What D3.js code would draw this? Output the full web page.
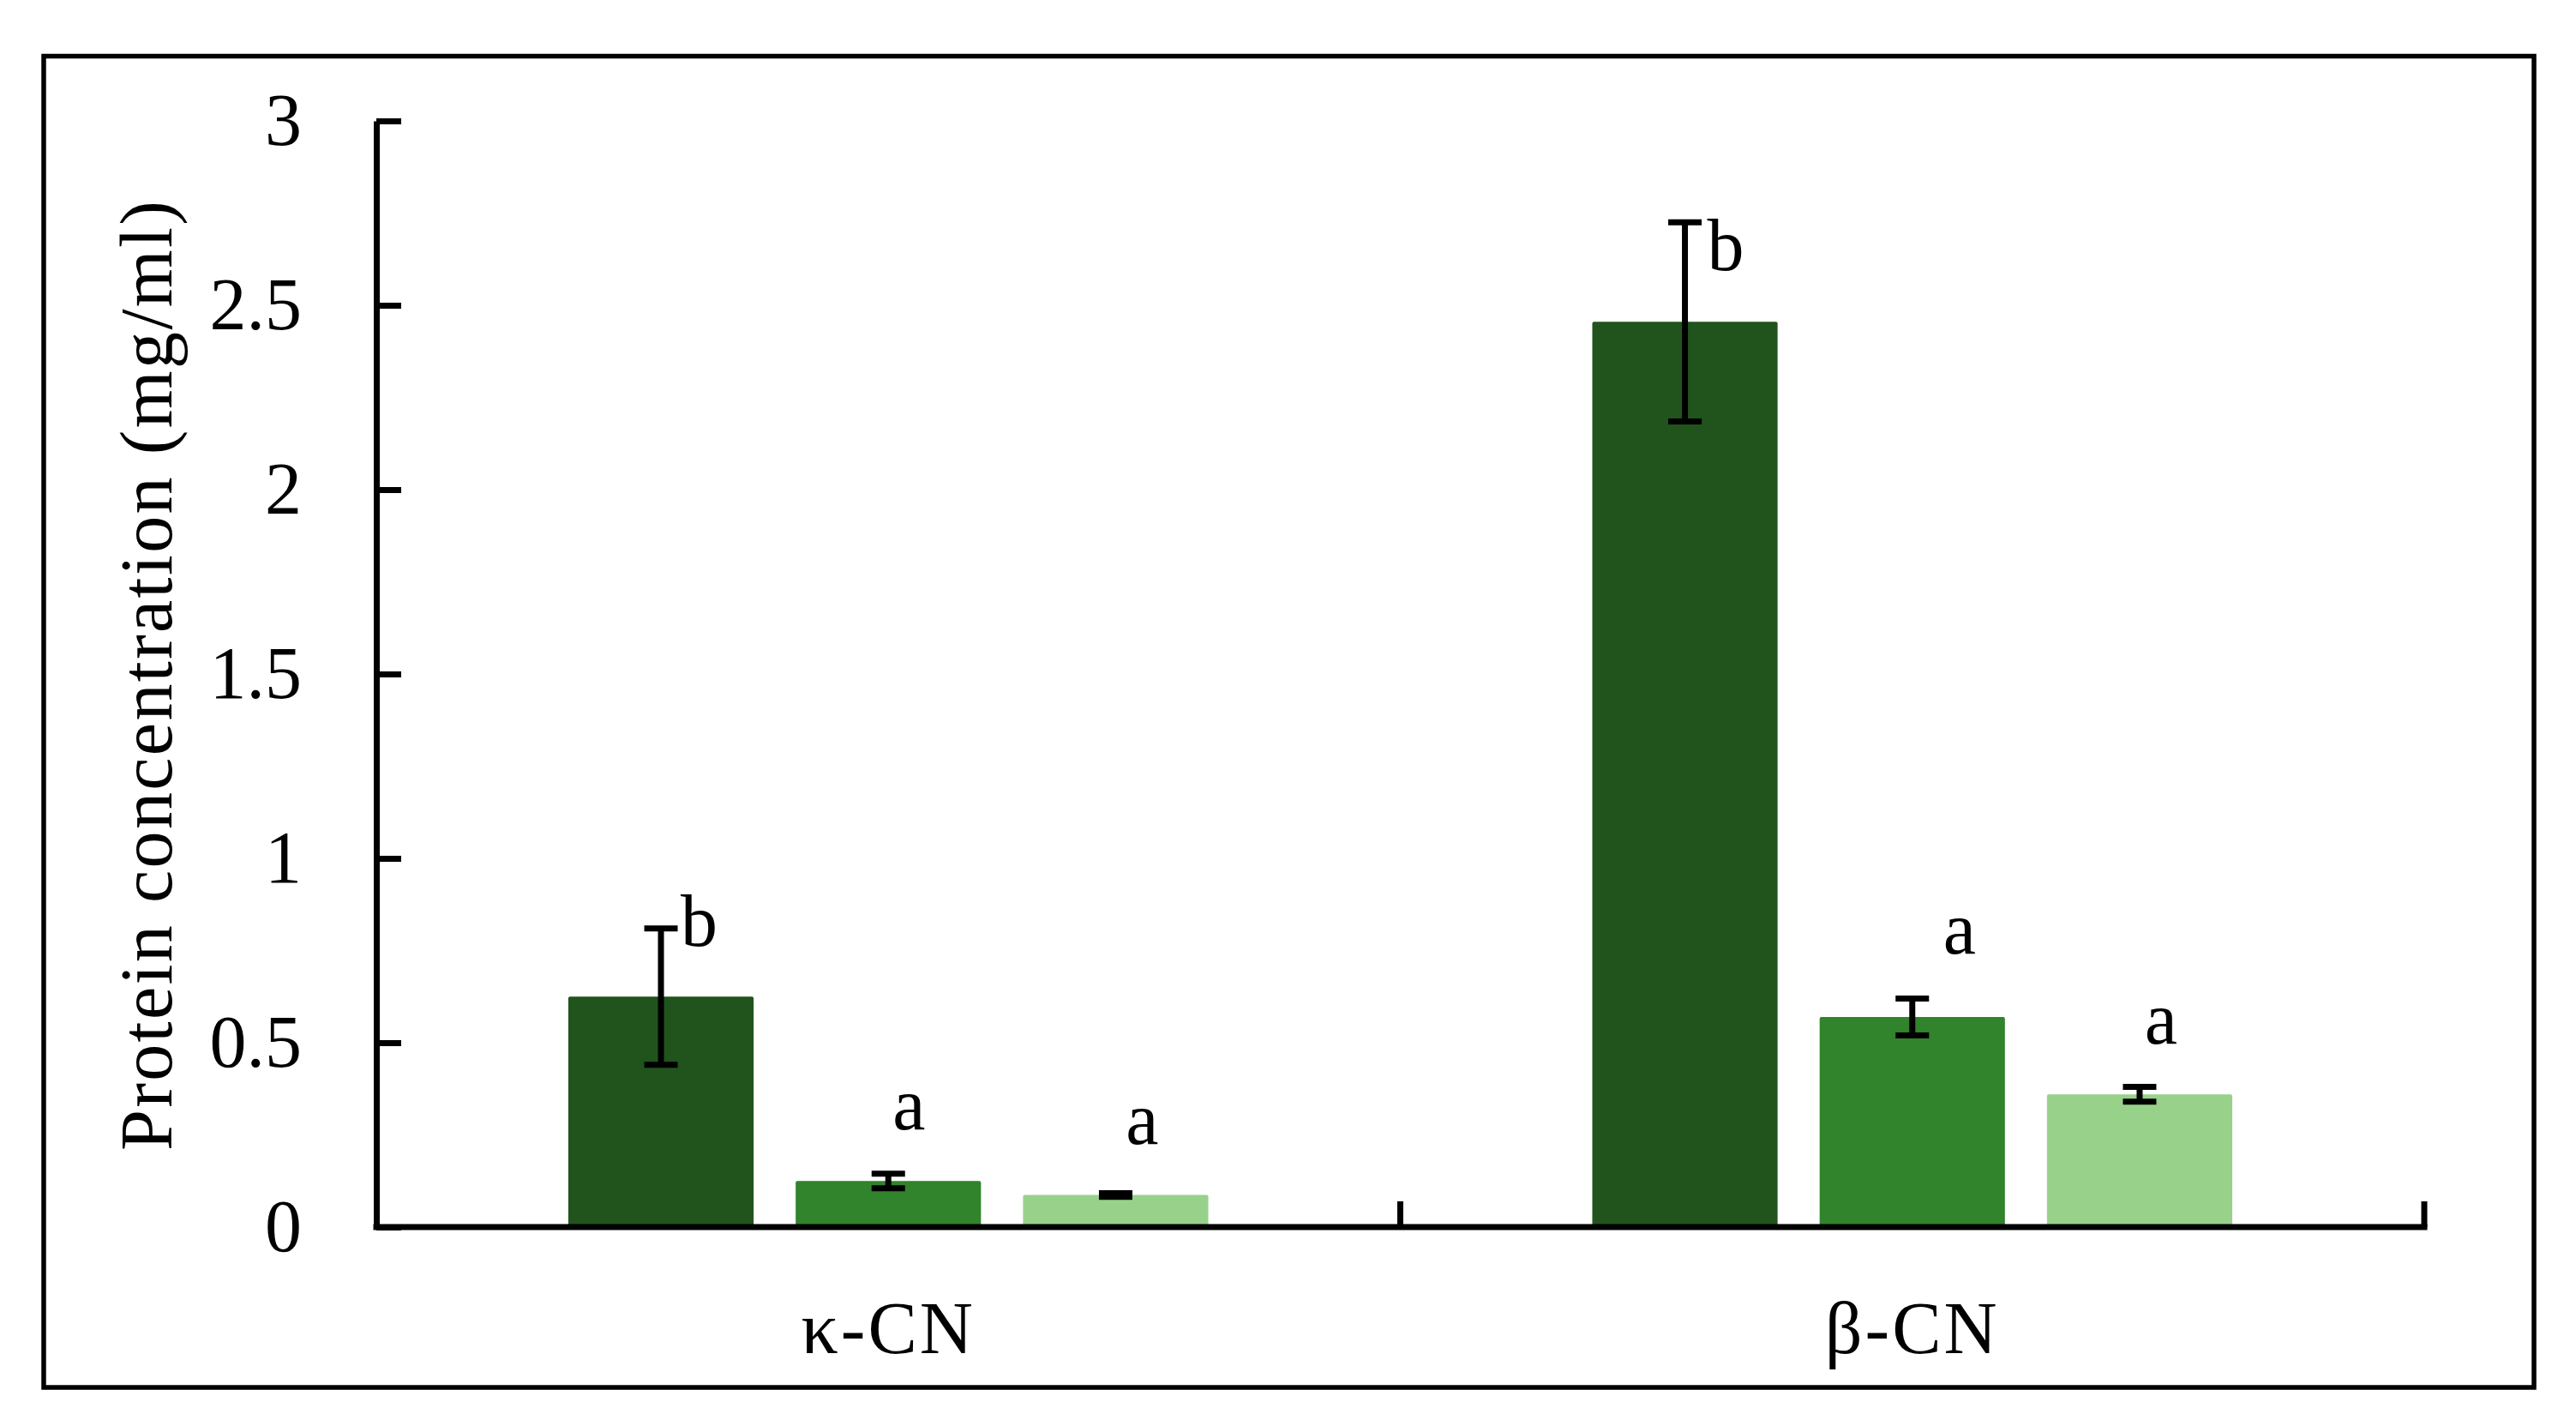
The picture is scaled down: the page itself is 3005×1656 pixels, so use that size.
<!DOCTYPE html>
<html>
<head>
<meta charset="utf-8">
<script src="https://cdn.jsdelivr.net/npm/d3@7"></script>
<style>
  html, body { margin: 0; padding: 0; background: #ffffff; }
  svg { display: block; }
  text { font-family: "Palatino Linotype", "Book Antiqua", Palatino, "Liberation Serif", serif; fill: #000; }
</style>
</head>
<body>
<svg id="chart" width="3005" height="1656"></svg>
<script>
// ---- data ----
const categories = ["κ-CN", "β-CN"];
const series = ["Sample 1", "Sample 2", "Sample 3"];
const kappaValues = [0.625, 0.125, 0.087];
const betaValues = [2.455, 0.57, 0.36];
const kappaErrors = [0.185, 0.02, 0.005];
const betaErrors = [0.27, 0.05, 0.02];
const kappaLetters = ["b", "a", "a"];
const betaLetters = ["b", "a", "a"];
const kappaLetterY = [0.762, 0.266, 0.226];
const betaLetterY = [2.595, 0.741, 0.498];
const yTicks = [0, 0.5, 1, 1.5, 2, 2.5, 3];
const yTitle = "Protein concentration (mg/ml)";
const colors = ["#20541c", "#31832c", "#98d28a"];

// letter horizontal anchors (offset from bar centre, px) and alignment
const letterDx = [[23, 24, 31], [26, 55, 25]];
const letterAnchor = [["start", "middle", "middle"], ["start", "middle", "middle"]];

const rows = categories.map((c, i) => ({
  cat: c,
  values: i === 0 ? kappaValues : betaValues,
  errors: i === 0 ? kappaErrors : betaErrors,
  letters: i === 0 ? kappaLetters : betaLetters,
  letterY: i === 0 ? kappaLetterY : betaLetterY
}));

// ---- layout ----
const svg = d3.select("#chart");
const plot = { left: 439, right: 2828, top: 141, bottom: 1431 };
const fontSize = 86;
const fontFam = "'Palatino Linotype','Book Antiqua',Palatino,'Liberation Serif',serif";

svg.append("rect")
  .attr("x", 51).attr("y", 65.5)
  .attr("width", 2905).attr("height", 1552.5)
  .attr("fill", "none").attr("stroke", "#000").attr("stroke-width", 5.5);

const y = d3.scaleLinear().domain([0, 3]).range([plot.bottom, plot.top]);
const x0 = d3.scaleBand().domain(categories).range([plot.left, plot.right]).paddingInner(0).paddingOuter(0);
const bw = x0.bandwidth();
const x1 = d3.scaleBand().domain(series).range([bw * 0.1875, bw * 0.8125]).paddingInner(0.185).paddingOuter(0);

// bars
const groups = svg.append("g").selectAll("g")
  .data(rows).join("g")
  .attr("transform", d => `translate(${x0(d.cat)},0)`);

groups.selectAll("rect")
  .data(d => d.values.map((v, j) => ({ s: series[j], v, j })))
  .join("rect")
  .attr("x", d => x1(d.s))
  .attr("y", d => y(d.v))
  .attr("width", x1.bandwidth())
  .attr("height", d => y(0) - y(d.v))
  .attr("rx", 2)
  .attr("fill", d => colors[d.j]);

// error bars
const capHalf = 19.5;
groups.each(function (d, i) {
  const g = d3.select(this);
  d.values.forEach((v, j) => {
    const cx = x1(series[j]) + x1.bandwidth() / 2;
    const hi = y(v + d.errors[j]);
    const lo = y(v - d.errors[j]);
    const eg = g.append("g").attr("stroke", "#000").attr("stroke-width", 7);
    eg.append("line").attr("x1", cx).attr("x2", cx).attr("y1", hi).attr("y2", lo);
    eg.append("line").attr("x1", cx - capHalf).attr("x2", cx + capHalf).attr("y1", hi).attr("y2", hi);
    eg.append("line").attr("x1", cx - capHalf).attr("x2", cx + capHalf).attr("y1", lo).attr("y2", lo);
    g.append("text")
      .attr("x", cx + letterDx[i][j])
      .attr("y", y(d.letterY[j]))
      .attr("text-anchor", letterAnchor[i][j])
      .attr("font-size", fontSize)
      .text(d.letters[j]);
  });
});

// y axis
const yAxis = d3.axisLeft(y).tickValues(yTicks).tickFormat(d3.format("~g"))
  .tickSizeInner(-29).tickSizeOuter(0).tickPadding(87);
const yg = svg.append("g").attr("transform", `translate(${plot.left},0)`).call(yAxis);
yg.select(".domain").attr("stroke", "#000").attr("stroke-width", 7);
yg.selectAll(".tick line").attr("stroke", "#000").attr("stroke-width", 7);
yg.selectAll(".tick text").attr("font-size", fontSize)
  .attr("font-family", fontFam)
  .attr("fill", "#000");

// x axis
const xAxis = d3.axisBottom(x0).tickSize(0).tickPadding(86);
const xg = svg.append("g").attr("transform", `translate(0,${plot.bottom})`).call(xAxis);
xg.select(".domain").attr("stroke", "#000").attr("stroke-width", 7)
  .attr("d", `M${plot.left - 3.5},0H${plot.right + 3.5}`);
xg.selectAll(".tick text").attr("font-size", fontSize)
  .attr("font-family", fontFam)
  .attr("letter-spacing", 3)
  .attr("fill", "#000");
// category boundary ticks (inside)
const bounds = categories.slice(1).map(c => x0(c)).concat([plot.right]);
xg.selectAll("line.bound").data(bounds).join("line")
  .attr("class", "bound")
  .attr("x1", d => d).attr("x2", d => d)
  .attr("y1", 0).attr("y2", -30)
  .attr("stroke", "#000").attr("stroke-width", 7);

// y title
svg.append("text")
  .attr("transform", `translate(200,${(plot.top + plot.bottom) / 2 + 2}) rotate(-90)`)
  .attr("text-anchor", "middle")
  .attr("font-size", fontSize)
  .attr("textLength", 1108)
  .attr("lengthAdjust", "spacing")
  .text(yTitle);
</script>
</body>
</html>
